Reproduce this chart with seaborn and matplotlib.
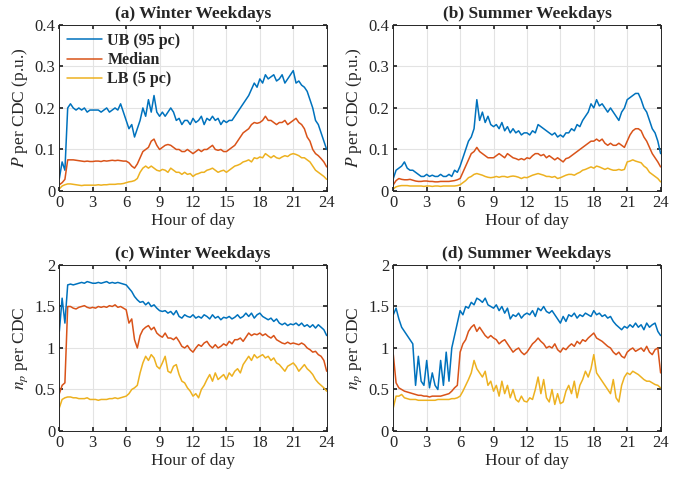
import numpy as np
import pandas as pd
import matplotlib
matplotlib.use("Agg")
import matplotlib.pyplot as plt
from matplotlib.ticker import FuncFormatter
import seaborn as sns

# Time axis: 15-minute resolution over one day
hours = np.arange(0, 24.01, 0.25)

series_names = ["UB (95 pc)", "Median", "LB (5 pc)"]
titles = ["(a) Winter Weekdays", "(b) Summer Weekdays",
          "(c) Winter Weekdays", "(d) Summer Weekdays"]

# (a) winter active power per CDC (p.u.)
p_win_ub = [0.03, 0.07, 0.05, 0.20,
            0.21, 0.20, 0.195, 0.20, 0.195, 0.20, 0.19, 0.195,
            0.195, 0.195, 0.195, 0.19, 0.195, 0.20, 0.19, 0.195,
            0.20, 0.195, 0.21, 0.19, 0.17, 0.15, 0.16, 0.13,
            0.15, 0.17, 0.20, 0.18, 0.22, 0.19, 0.23, 0.19,
            0.18, 0.19, 0.18, 0.19, 0.20, 0.19, 0.17, 0.175,
            0.16, 0.17, 0.17, 0.16, 0.175, 0.165, 0.17, 0.18,
            0.16, 0.175, 0.17, 0.18, 0.17, 0.175, 0.16, 0.17,
            0.165, 0.17, 0.17, 0.18, 0.19, 0.20, 0.21, 0.22,
            0.23, 0.245, 0.26, 0.25, 0.27, 0.26, 0.28, 0.27,
            0.275, 0.28, 0.265, 0.27, 0.28, 0.26, 0.27, 0.28,
            0.29, 0.26, 0.265, 0.255, 0.25, 0.24, 0.22, 0.20,
            0.17, 0.16, 0.14, 0.12, 0.10]
p_win_med = [0.015, 0.02, 0.028, 0.075,
             0.075, 0.075, 0.074, 0.073, 0.072, 0.071, 0.072, 0.071,
             0.071, 0.072, 0.072, 0.071, 0.073, 0.072, 0.073, 0.074,
             0.073, 0.074, 0.073, 0.072, 0.072, 0.068, 0.060, 0.055,
             0.065, 0.080, 0.095, 0.10, 0.105, 0.12, 0.125, 0.11,
             0.10, 0.105, 0.11, 0.112, 0.11, 0.105, 0.10, 0.10,
             0.095, 0.095, 0.10, 0.095, 0.09, 0.095, 0.10, 0.095,
             0.10, 0.10, 0.105, 0.11, 0.10, 0.098, 0.10, 0.095,
             0.095, 0.10, 0.105, 0.11, 0.12, 0.13, 0.14, 0.145,
             0.15, 0.16, 0.165, 0.163, 0.165, 0.17, 0.18, 0.17,
             0.17, 0.165, 0.16, 0.165, 0.165, 0.17, 0.16, 0.165,
             0.17, 0.175, 0.165, 0.16, 0.15, 0.13, 0.12, 0.10,
             0.09, 0.085, 0.078, 0.07, 0.058]
p_win_lb = [0.005, 0.012, 0.015, 0.017,
            0.017, 0.016, 0.015, 0.014, 0.013, 0.014, 0.014, 0.014,
            0.014, 0.014, 0.015, 0.014, 0.015, 0.015, 0.016, 0.016,
            0.016, 0.017, 0.017, 0.018, 0.020, 0.022, 0.023, 0.025,
            0.030, 0.045, 0.055, 0.060, 0.055, 0.060, 0.055, 0.050,
            0.048, 0.052, 0.050, 0.045, 0.055, 0.050, 0.045, 0.045,
            0.040, 0.045, 0.040, 0.042, 0.035, 0.040, 0.042, 0.045,
            0.045, 0.050, 0.052, 0.055, 0.050, 0.045, 0.048, 0.050,
            0.045, 0.050, 0.055, 0.060, 0.062, 0.065, 0.070, 0.072,
            0.075, 0.070, 0.080, 0.078, 0.082, 0.080, 0.090, 0.085,
            0.080, 0.085, 0.080, 0.078, 0.082, 0.085, 0.083, 0.088,
            0.090, 0.088, 0.085, 0.080, 0.080, 0.075, 0.070, 0.060,
            0.050, 0.045, 0.040, 0.035, 0.028]

# (b) summer active power per CDC (p.u.)
p_sum_ub = [0.03, 0.05, 0.055, 0.06,
            0.07, 0.055, 0.05, 0.05, 0.045, 0.04, 0.035, 0.035,
            0.04, 0.035, 0.038, 0.035, 0.035, 0.04, 0.035, 0.035,
            0.04, 0.035, 0.05, 0.045, 0.06, 0.08, 0.10, 0.12,
            0.13, 0.15, 0.22, 0.17, 0.19, 0.165, 0.18, 0.16,
            0.155, 0.16, 0.15, 0.165, 0.145, 0.155, 0.14, 0.15,
            0.14, 0.145, 0.135, 0.14, 0.14, 0.135, 0.145, 0.14,
            0.16, 0.155, 0.15, 0.145, 0.14, 0.135, 0.14, 0.13,
            0.135, 0.13, 0.14, 0.14, 0.15, 0.145, 0.16, 0.155,
            0.17, 0.18, 0.19, 0.21, 0.20, 0.22, 0.205, 0.21,
            0.20, 0.19, 0.20, 0.19, 0.18, 0.17, 0.19, 0.20,
            0.22, 0.225, 0.23, 0.235, 0.235, 0.22, 0.20, 0.19,
            0.17, 0.15, 0.14, 0.12, 0.09]
p_sum_med = [0.015, 0.025, 0.03, 0.028,
             0.027, 0.027, 0.028, 0.026, 0.024, 0.023, 0.023, 0.024,
             0.024, 0.023, 0.023, 0.022, 0.022, 0.023, 0.023, 0.023,
             0.023, 0.024, 0.025, 0.027, 0.030, 0.045, 0.060, 0.075,
             0.090, 0.095, 0.105, 0.095, 0.090, 0.085, 0.080, 0.080,
             0.080, 0.085, 0.090, 0.085, 0.080, 0.090, 0.085, 0.080,
             0.078, 0.075, 0.078, 0.075, 0.080, 0.078, 0.085, 0.090,
             0.090, 0.085, 0.088, 0.080, 0.085, 0.080, 0.075, 0.080,
             0.075, 0.070, 0.078, 0.080, 0.085, 0.090, 0.095, 0.100,
             0.105, 0.110, 0.115, 0.120, 0.120, 0.125, 0.120, 0.125,
             0.115, 0.110, 0.115, 0.110, 0.110, 0.115, 0.110, 0.105,
             0.120, 0.135, 0.145, 0.150, 0.150, 0.145, 0.130, 0.120,
             0.105, 0.090, 0.080, 0.070, 0.058]
p_sum_lb = [0.005, 0.010, 0.012, 0.013,
            0.013, 0.013, 0.012, 0.012, 0.012, 0.012, 0.012, 0.011,
            0.012, 0.012, 0.011, 0.012, 0.012, 0.011, 0.012, 0.012,
            0.012, 0.012, 0.012, 0.013, 0.015, 0.020, 0.025, 0.032,
            0.035, 0.040, 0.042, 0.040, 0.038, 0.035, 0.033, 0.032,
            0.033, 0.035, 0.033, 0.035, 0.035, 0.033, 0.035, 0.036,
            0.035, 0.033, 0.030, 0.033, 0.032, 0.035, 0.038, 0.040,
            0.042, 0.040, 0.038, 0.035, 0.035, 0.033, 0.035, 0.030,
            0.032, 0.035, 0.038, 0.040, 0.040, 0.038, 0.042, 0.045,
            0.050, 0.052, 0.055, 0.058, 0.055, 0.060, 0.058, 0.055,
            0.052, 0.055, 0.052, 0.050, 0.050, 0.052, 0.050, 0.052,
            0.070, 0.072, 0.075, 0.072, 0.070, 0.068, 0.060, 0.055,
            0.045, 0.040, 0.035, 0.030, 0.022]

# (c) winter number of phases per CDC
n_win_ub = [1.20, 1.60, 1.30, 1.76,
            1.77, 1.76, 1.77, 1.78, 1.79, 1.78, 1.80, 1.79,
            1.78, 1.78, 1.79, 1.78, 1.79, 1.80, 1.78, 1.79,
            1.78, 1.79, 1.78, 1.77, 1.76, 1.72, 1.68, 1.62,
            1.58, 1.55, 1.56, 1.52, 1.55, 1.50, 1.52, 1.48,
            1.45, 1.44, 1.45, 1.42, 1.44, 1.40, 1.45, 1.38,
            1.36, 1.40, 1.38, 1.37, 1.40, 1.36, 1.38, 1.36,
            1.40, 1.38, 1.35, 1.40, 1.36, 1.38, 1.34, 1.37,
            1.36, 1.38, 1.35, 1.37, 1.40, 1.36, 1.38, 1.42,
            1.38, 1.42, 1.36, 1.40, 1.42, 1.38, 1.36, 1.34,
            1.36, 1.32, 1.35, 1.30, 1.28, 1.30, 1.27, 1.29,
            1.28, 1.30, 1.27, 1.30, 1.26, 1.28, 1.25, 1.28,
            1.24, 1.28, 1.25, 1.22, 1.15]
n_win_med = [0.45, 0.55, 0.58, 1.50,
             1.50, 1.48, 1.47, 1.49, 1.50, 1.51, 1.49, 1.48,
             1.49, 1.48, 1.50, 1.49, 1.50, 1.49, 1.51, 1.50,
             1.52, 1.49, 1.50, 1.48, 1.46, 1.30, 1.35, 1.10,
             1.00, 1.15, 1.22, 1.25, 1.27, 1.22, 1.25, 1.18,
             1.15, 1.13, 1.18, 1.12, 1.12, 1.10, 1.13, 1.08,
             1.02, 1.00, 1.03, 0.98, 0.95, 1.00, 1.04, 1.02,
             1.06, 1.08, 1.03, 1.00, 1.04, 1.00, 1.02, 1.05,
             1.03, 1.08, 1.05, 1.10, 1.10, 1.12, 1.08, 1.13,
             1.18, 1.15, 1.17, 1.16, 1.18, 1.15, 1.17, 1.14,
             1.12, 1.15, 1.10, 1.08, 1.06, 1.05, 1.07, 1.05,
             1.06, 1.05, 1.04, 1.06, 1.04, 1.00, 0.98, 0.95,
             0.96, 0.92, 0.90, 0.85, 0.72]
n_win_lb = [0.28, 0.38, 0.40, 0.41,
            0.41, 0.40, 0.40, 0.39, 0.39, 0.39, 0.40, 0.38,
            0.38, 0.38, 0.37, 0.38, 0.38, 0.38, 0.39, 0.39,
            0.40, 0.39, 0.40, 0.41, 0.42, 0.45, 0.50, 0.52,
            0.55, 0.70, 0.82, 0.90, 0.85, 0.92, 0.88, 0.78,
            0.75, 0.82, 0.90, 0.72, 0.70, 0.78, 0.80, 0.68,
            0.60, 0.58, 0.52, 0.48, 0.42, 0.45, 0.40, 0.50,
            0.55, 0.62, 0.68, 0.60, 0.70, 0.62, 0.65, 0.68,
            0.62, 0.70, 0.66, 0.72, 0.75, 0.70, 0.80, 0.85,
            0.90, 0.85, 0.92, 0.88, 0.90, 0.92, 0.88, 0.90,
            0.85, 0.88, 0.82, 0.80, 0.76, 0.72, 0.78, 0.80,
            0.82, 0.78, 0.72, 0.76, 0.80, 0.75, 0.72, 0.68,
            0.62, 0.58, 0.55, 0.52, 0.48]

# (d) summer number of phases per CDC
n_sum_ub = [1.40, 1.48, 1.35, 1.25,
            1.20, 1.15, 1.10, 1.05, 0.55, 0.90, 0.60, 0.55,
            0.85, 0.52, 0.70, 0.55, 0.50, 0.85, 0.55, 0.95,
            0.60, 1.00, 1.15, 1.30, 1.45, 1.40, 1.50, 1.48,
            1.55, 1.52, 1.60, 1.58, 1.55, 1.60, 1.52, 1.50,
            1.48, 1.52, 1.45, 1.50, 1.42, 1.48, 1.35, 1.40,
            1.38, 1.42, 1.36, 1.40, 1.42, 1.40, 1.45, 1.38,
            1.48, 1.45, 1.50, 1.44, 1.42, 1.45, 1.40, 1.35,
            1.30, 1.38, 1.32, 1.40, 1.38, 1.42, 1.36, 1.40,
            1.38, 1.42, 1.40, 1.38, 1.45, 1.40, 1.42, 1.38,
            1.40, 1.36, 1.38, 1.32, 1.28, 1.25, 1.22, 1.26,
            1.24, 1.28, 1.25, 1.30, 1.25, 1.28, 1.22, 1.30,
            1.25, 1.28, 1.30, 1.20, 1.15]
n_sum_med = [0.92, 0.58, 0.52, 0.50,
             0.48, 0.47, 0.46, 0.45, 0.44, 0.43, 0.43, 0.42,
             0.42, 0.41, 0.42, 0.42, 0.42, 0.42, 0.43, 0.44,
             0.45, 0.48, 0.52, 0.55, 0.95, 1.05, 1.10, 1.20,
             1.25, 1.28, 1.20, 1.25, 1.20, 1.15, 1.12, 1.15,
             1.12, 1.10, 1.05, 1.08, 1.10, 1.05, 1.00, 0.95,
             0.98, 1.00, 0.95, 0.92, 0.95, 1.00, 1.05, 1.08,
             1.12, 1.08, 1.05, 1.00, 1.02, 1.00, 1.05, 0.98,
             0.95, 1.00, 0.98, 1.02, 1.05, 1.02, 1.08, 1.05,
             1.10, 1.08, 1.12, 1.15, 1.18, 1.12, 1.10, 1.08,
             1.05, 1.02, 1.00, 0.95, 0.92, 0.95, 0.90, 0.88,
             0.95, 0.98, 1.00, 0.96, 0.98, 1.00, 0.96, 1.02,
             0.95, 0.92, 0.98, 1.00, 0.70]
n_sum_lb = [0.28, 0.42, 0.42, 0.44,
            0.40, 0.39, 0.38, 0.38, 0.38, 0.37, 0.37, 0.37,
            0.37, 0.37, 0.37, 0.37, 0.38, 0.38, 0.38, 0.38,
            0.38, 0.39, 0.39, 0.40, 0.42, 0.48, 0.55, 0.62,
            0.70, 0.85, 0.75, 0.70, 0.65, 0.72, 0.55, 0.60,
            0.48, 0.55, 0.42, 0.60, 0.45, 0.55, 0.40, 0.50,
            0.38, 0.35, 0.42, 0.36, 0.35, 0.40, 0.38, 0.50,
            0.65, 0.45, 0.62, 0.40, 0.35, 0.50, 0.32, 0.45,
            0.33, 0.35, 0.48, 0.55, 0.45, 0.60, 0.40, 0.55,
            0.62, 0.72, 0.65, 0.75, 0.92, 0.70, 0.65, 0.60,
            0.55, 0.50, 0.45, 0.62, 0.40, 0.35, 0.55, 0.65,
            0.70, 0.68, 0.72, 0.70, 0.68, 0.65, 0.62, 0.60,
            0.60, 0.58, 0.56, 0.55, 0.52]

panels = [
    (p_win_ub, p_win_med, p_win_lb),
    (p_sum_ub, p_sum_med, p_sum_lb),
    (n_win_ub, n_win_med, n_win_lb),
    (n_sum_ub, n_sum_med, n_sum_lb),
]

sns.set_theme(style="whitegrid")
plt.rcParams["font.family"] = ["Liberation Serif", "DejaVu Serif"]
plt.rcParams["mathtext.fontset"] = "stix"

colors = ["#0072BD", "#D95319", "#EDB120"]
palette = dict(zip(series_names, colors))

fig = plt.figure(figsize=(6.94, 4.79), dpi=100)
W, H = 0.3852, 0.3466
positions = [(0.0855, 0.6013), (0.5667, 0.6013), (0.0855, 0.1002), (0.5667, 0.1002)]

for i, (vals, title, pos) in enumerate(zip(panels, titles, positions)):
    ax = fig.add_axes([pos[0], pos[1], W, H])
    frames = []
    for name, v in zip(series_names, vals):
        frames.append(pd.DataFrame({"hour": hours, "value": v, "series": name}))
    df = pd.concat(frames, ignore_index=True)
    sns.lineplot(data=df, x="hour", y="value", hue="series", palette=palette,
                 hue_order=series_names, linewidth=1.1, ax=ax, legend=(i == 0))

    ax.set_xlim(0, 24)
    ax.set_xticks(np.arange(0, 25, 3))
    if i < 2:
        ax.set_ylim(0, 0.4)
        ax.set_yticks([0, 0.1, 0.2, 0.3, 0.4])
        ax.set_ylabel("$P$ per CDC (p.u.)", fontsize=12.5, labelpad=3)
    else:
        ax.set_ylim(0, 2)
        ax.set_yticks([0, 0.5, 1, 1.5, 2])
        ax.set_ylabel("$n_p$ per CDC", fontsize=12.5, labelpad=3)
    ax.yaxis.set_major_formatter(FuncFormatter(lambda y, _: f"{y:g}"))
    ax.set_xlabel("Hour of day", fontsize=12.5, labelpad=1)
    ax.set_title(title, fontsize=12.5, fontweight="bold", pad=5)

    ax.grid(True, color="#e3e3e3", linewidth=0.8)
    ax.tick_params(axis="both", which="both", direction="in", length=3,
                   labelsize=12, colors="#262626", top=True, right=True,
                   bottom=True, left=True, pad=3)
    for s in ax.spines.values():
        s.set_color("#262626")
        s.set_linewidth(0.7)
    ax.set_facecolor("white")

    if i == 0:
        leg = ax.legend(loc="upper left", frameon=False, fontsize=11.5,
                        handlelength=2.2, handletextpad=0.3,
                        borderaxespad=0.1, labelspacing=0.2)
        for t in leg.get_texts():
            t.set_fontweight("bold")

fig.savefig("out.png", dpi=100, facecolor="white")
